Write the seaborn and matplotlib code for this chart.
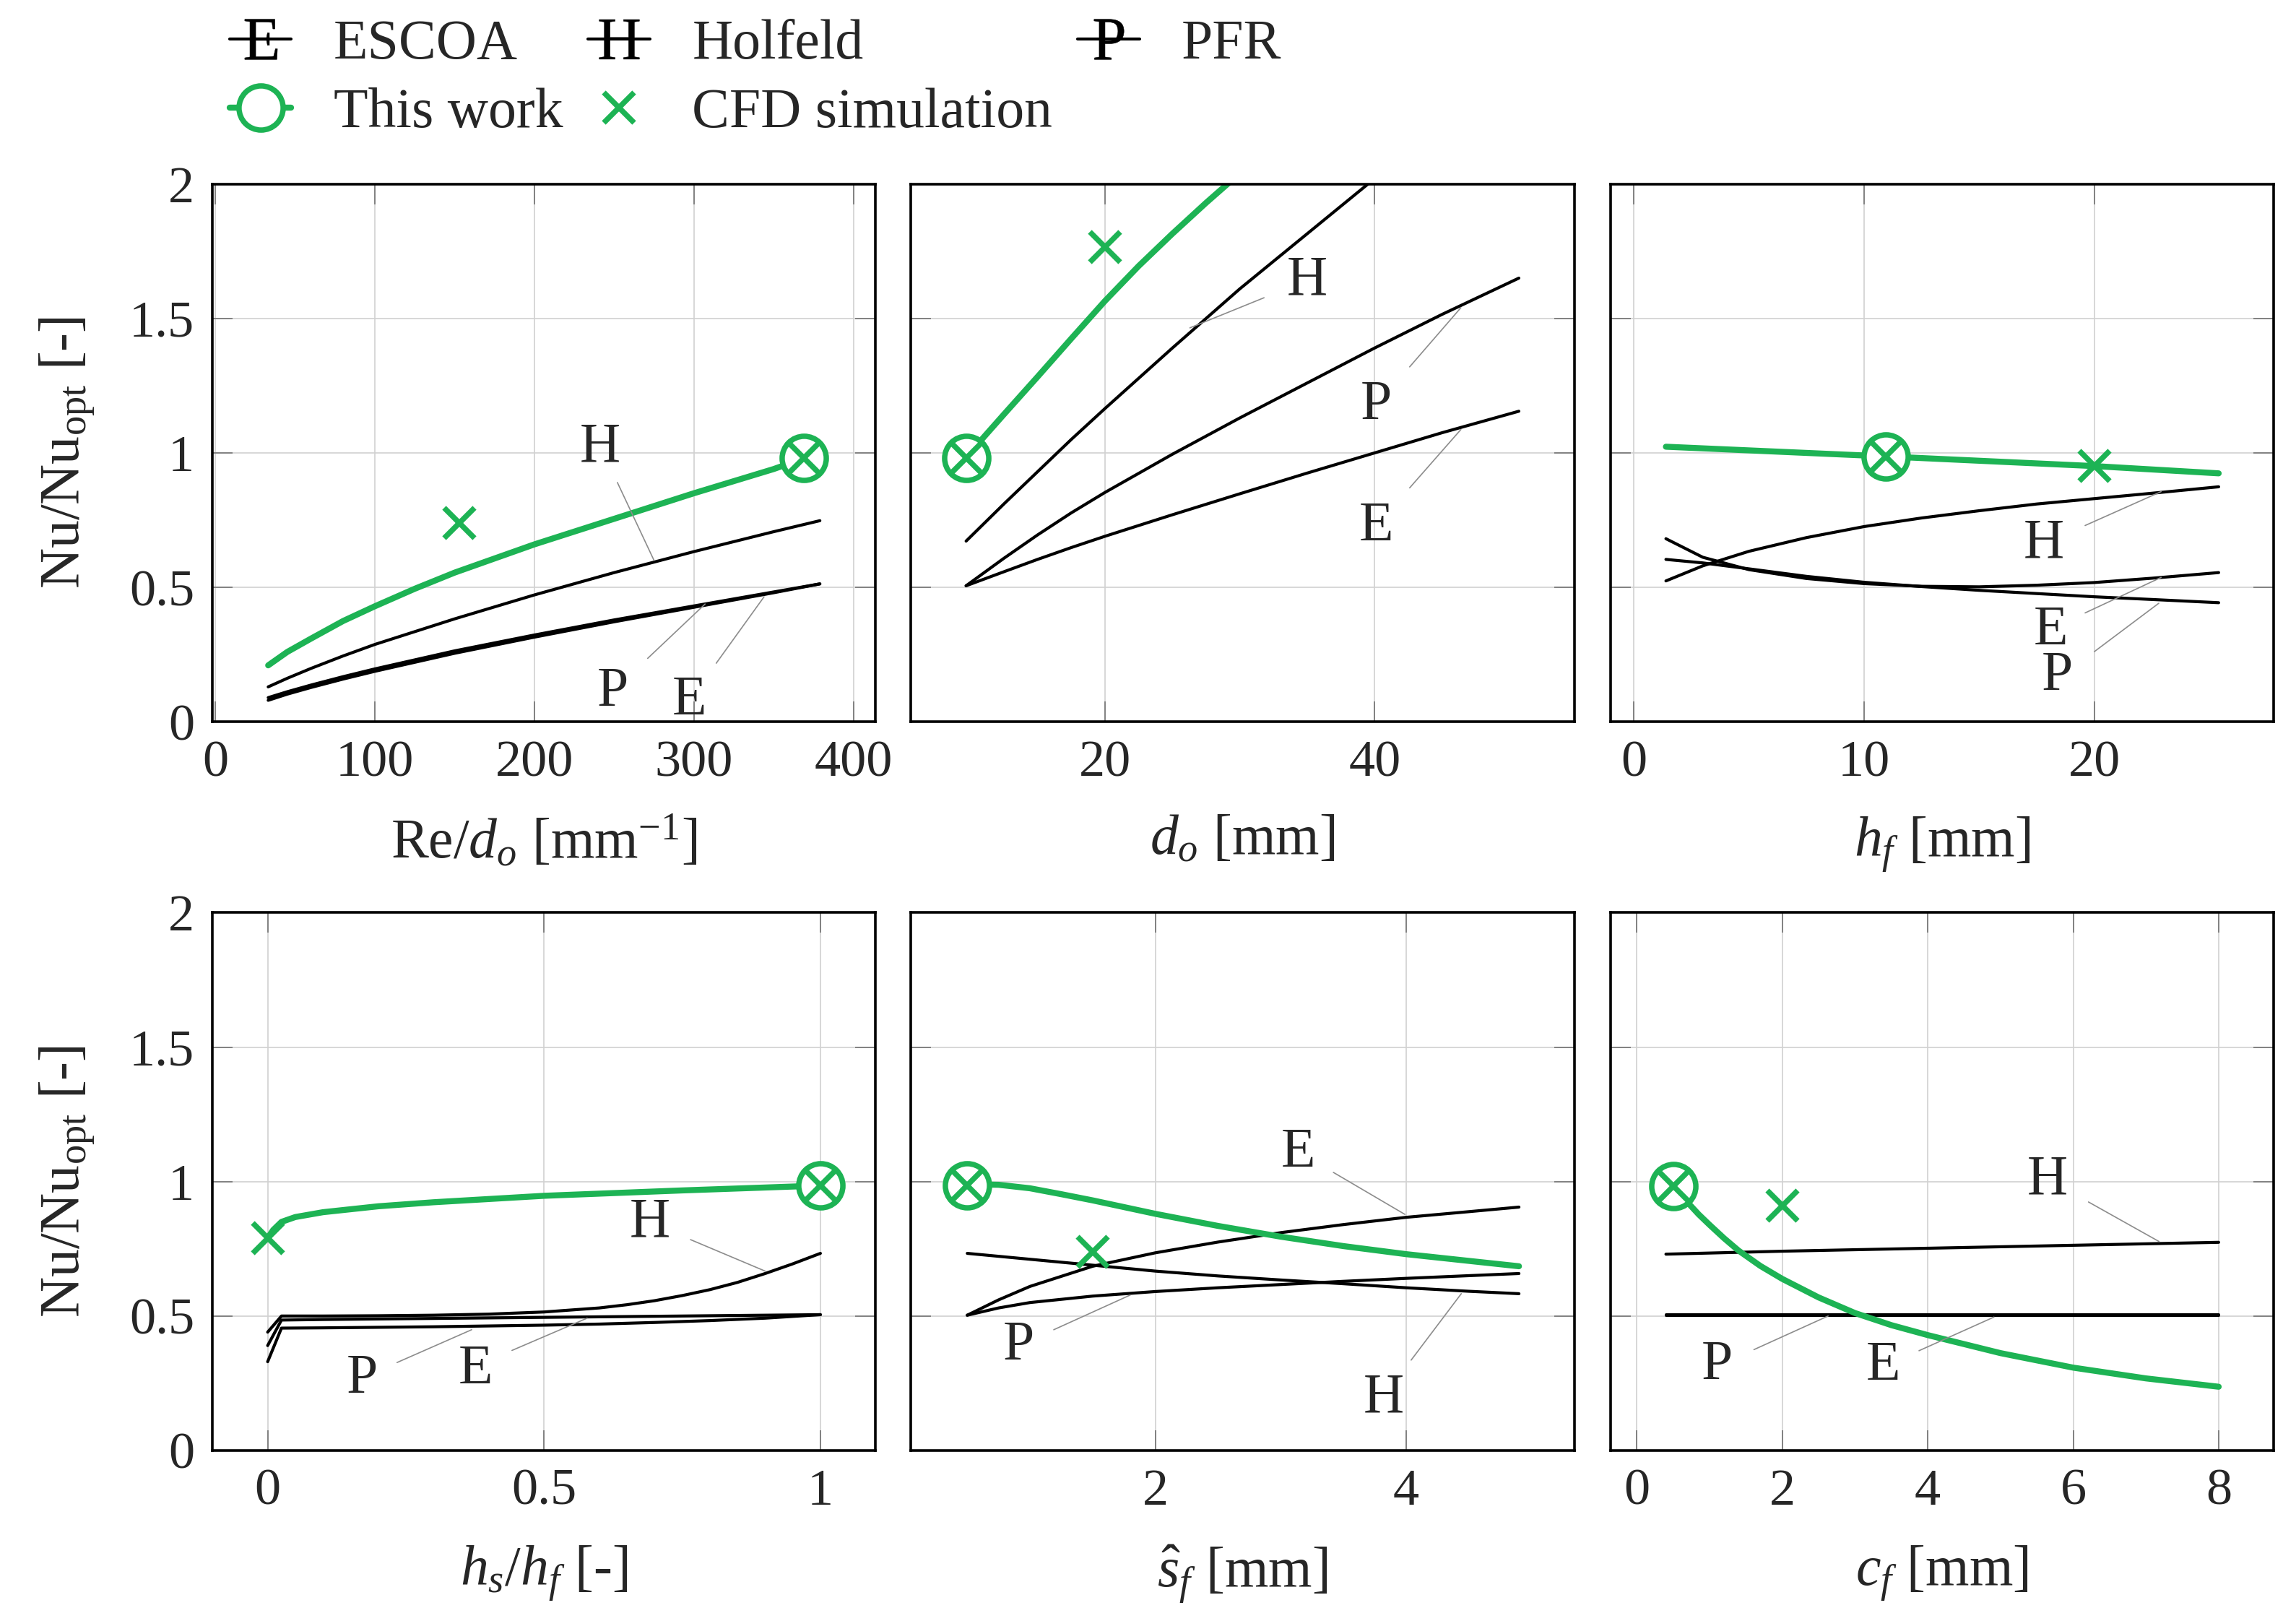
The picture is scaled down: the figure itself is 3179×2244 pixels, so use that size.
import numpy as np
import pandas as pd
import seaborn as sns
import matplotlib.pyplot as plt
from matplotlib.lines import Line2D
from matplotlib.ticker import FuncFormatter

# ---- panel 1: Re/d_o
re_x = [33, 45, 60, 80, 100, 150, 200, 250, 300, 350, 379]
re_E = [0.08, 0.103, 0.128, 0.159, 0.188, 0.255, 0.315, 0.372, 0.426, 0.48, 0.513]
re_H = [0.13, 0.162, 0.199, 0.245, 0.288, 0.383, 0.472, 0.555, 0.633, 0.707, 0.748]
re_P = [0.09, 0.112, 0.137, 0.168, 0.197, 0.264, 0.323, 0.379, 0.431, 0.483, 0.513]
re_tw_x = [33, 45, 60, 80, 100, 125, 150, 200, 250, 300, 350, 369]
re_tw = [0.21, 0.26, 0.31, 0.375, 0.43, 0.495, 0.555, 0.66, 0.755, 0.85, 0.94, 0.98]
re_cfd_x = [153, 369]
re_cfd = [0.74, 0.98]
re_opt = (369, 0.98)

# ---- panel 2: d_o
do_x = [9.7, 12.5, 15, 17.5, 20, 25, 30, 35, 40, 45, 50.7]
do_E = [0.506, 0.558, 0.604, 0.648, 0.69, 0.77, 0.848, 0.925, 1.0, 1.075, 1.155]
do_P = [0.506, 0.608, 0.695, 0.777, 0.853, 0.995, 1.13, 1.26, 1.39, 1.515, 1.65]
do_H_x = [9.7, 12.5, 15, 17.5, 20, 25, 30, 35, 40]
do_H = [0.672, 0.81, 0.93, 1.05, 1.165, 1.39, 1.61, 1.815, 2.02]
do_tw_x = [9.7, 11, 12.5, 15, 17.5, 20, 22.5, 25, 27.5, 30]
do_tw = [0.982, 1.058, 1.143, 1.283, 1.425, 1.565, 1.695, 1.815, 1.93, 2.04]
do_cfd_x = [9.7, 20]
do_cfd = [0.982, 1.766]
do_opt = (9.7, 0.982)

# ---- panel 3: h_f
hf_x = [1.4, 3, 5, 7.5, 10, 12.5, 15, 17.5, 20, 22.5, 25.4]
hf_H = [0.524, 0.58, 0.634, 0.685, 0.726, 0.758, 0.785, 0.81, 0.83, 0.85, 0.874]
hf_E = [0.681, 0.612, 0.566, 0.533, 0.514, 0.504, 0.502, 0.508, 0.518, 0.534, 0.555]
hf_P = [0.604, 0.591, 0.569, 0.541, 0.519, 0.503, 0.489, 0.477, 0.465, 0.455, 0.443]
hf_tw_x = [1.4, 10.94, 20, 25.4]
hf_tw = [1.023, 0.987, 0.951, 0.924]
hf_cfd_x = [10.94, 20]
hf_cfd = [0.987, 0.951]
hf_opt = (10.94, 0.987)

# ---- panel 4: h_s/h_f
hs_x = [0, 0.025, 0.1, 0.2, 0.3, 0.4, 0.5, 0.6, 0.7, 0.8, 0.9, 1.0]
hs_E = [0.39, 0.485, 0.487, 0.489, 0.491, 0.493, 0.495, 0.497, 0.499, 0.501, 0.503, 0.505]
hs_P = [0.33, 0.455, 0.456, 0.458, 0.46, 0.463, 0.466, 0.47, 0.476, 0.483, 0.492, 0.505]
hs_H_x = [0, 0.025, 0.1, 0.2, 0.3, 0.4, 0.5, 0.6, 0.65, 0.7, 0.75, 0.8, 0.85, 0.9, 0.95, 1.0]
hs_H = [0.44, 0.50, 0.50, 0.501, 0.503, 0.507, 0.515, 0.53, 0.542, 0.557, 0.576,
        0.598, 0.625, 0.658, 0.694, 0.733]
hs_tw_x = [0, 0.01, 0.025, 0.05, 0.1, 0.2, 0.3, 0.5, 0.75, 1.0]
hs_tw = [0.79, 0.82, 0.85, 0.868, 0.886, 0.908, 0.923, 0.947, 0.967, 0.985]
hs_cfd_x = [0, 1.0]
hs_cfd = [0.79, 0.985]
hs_opt = (1.0, 0.985)

# ---- panel 5: s_f
sf_x = [0.5, 0.75, 1.0, 1.5, 2.0, 2.5, 3.0, 3.5, 4.0, 4.5, 4.9]
sf_E = [0.503, 0.56, 0.61, 0.685, 0.735, 0.775, 0.81, 0.84, 0.867, 0.888, 0.905]
sf_H = [0.733, 0.722, 0.711, 0.689, 0.667, 0.649, 0.634, 0.62, 0.605, 0.592, 0.583]
sf_P = [0.503, 0.53, 0.55, 0.574, 0.591, 0.605, 0.617, 0.629, 0.64, 0.65, 0.658]
sf_tw_x = [0.5, 0.75, 1.0, 1.25, 1.5, 2.0, 2.5, 3.0, 3.5, 4.0, 4.5, 4.9]
sf_tw = [0.99, 0.988, 0.975, 0.953, 0.93, 0.88, 0.835, 0.795, 0.76, 0.73, 0.705, 0.685]
sf_cfd_x = [0.5, 1.5]
sf_cfd = [0.986, 0.739]
sf_opt = (0.5, 0.986)

# ---- panel 6: c_f
cf_x = [0.4, 2, 4, 6, 8]
cf_H = [0.730, 0.741, 0.752, 0.763, 0.774]
cf_E = [0.504, 0.504, 0.504, 0.504, 0.504]
cf_P = [0.503, 0.503, 0.503, 0.503, 0.503]
cf_tw_x = [0.5, 0.6, 0.72, 0.85, 1.0, 1.2, 1.4, 1.7, 2.0, 2.5, 3.0, 3.5, 4.0, 5.0,
           6.0, 7.0, 8.0]
cf_tw = [0.982, 0.952, 0.916, 0.878, 0.839, 0.789, 0.743, 0.686, 0.638, 0.569,
         0.511, 0.466, 0.429, 0.362, 0.308, 0.268, 0.237]
cf_cfd_x = [0.5, 2.0]
cf_cfd = [0.982, 0.911]
cf_opt = (0.5, 0.982)

GREEN = "#1db354"
FS_TICK = 26
FS = 28

sns.set_theme(style="whitegrid")
plt.rcParams["font.family"] = ["Liberation Serif", "DejaVu Serif"]
plt.rcParams["mathtext.fontset"] = "custom"
plt.rcParams["mathtext.rm"] = "Liberation Serif"
plt.rcParams["mathtext.it"] = "Liberation Serif:italic"
plt.rcParams["mathtext.bf"] = "Liberation Serif:bold"

fig = plt.figure(figsize=(15.895, 11.22), dpi=200)
fig.patch.set_facecolor("white")

lefts = [0.0925, 0.3967, 0.7015]
bottoms = [0.5547, 0.1052]
W, H = 0.2889, 0.3318
axes = [[fig.add_axes([l, b, W, H]) for l in lefts] for b in bottoms]


def panel(ax, black, tw_x, tw_y, cfd_x, cfd_y, opt, notes, xlim, xticks, xlabel):
    for bx, by in black:
        sns.lineplot(x=bx, y=by, ax=ax, color="black", lw=1.5,
                     estimator=None, sort=False)
    sns.lineplot(x=tw_x, y=tw_y, ax=ax, color=GREEN, lw=3.0,
                 estimator=None, sort=False)
    # optimum of this work, CFD points on top
    ax.plot([opt[0]], [opt[1]], ls="none", marker="o", ms=22, mfc="white",
            mec=GREEN, mew=2.7, zorder=5, clip_on=False)
    ax.plot(cfd_x, cfd_y, ls="none", marker="x", ms=15, mec=GREEN, mew=2.7,
            zorder=6, clip_on=False)
    for txt, tx, ty, x0, y0, x1, y1 in notes:
        ax.plot([x0, x1], [y0, y1], color="0.55", lw=0.6)
        ax.text(tx, ty, txt, ha="center", va="center", fontsize=FS)
    ax.set_xlim(*xlim)
    ax.set_ylim(0, 2)
    ax.set_xticks(xticks)
    ax.set_yticks([0, 0.5, 1, 1.5, 2])
    ax.xaxis.set_major_formatter(FuncFormatter(lambda v, p: f"{v:g}"))
    ax.yaxis.set_major_formatter(FuncFormatter(lambda v, p: f"{v:g}"))
    ax.set_xlabel(xlabel, fontsize=FS, labelpad=14)
    ax.grid(True, color="0.82", lw=0.6)
    ax.set_facecolor("white")
    for s in ax.spines.values():
        s.set_color("black")
        s.set_linewidth(1.3)
    ax.tick_params(direction="in", length=10, width=0.6, color="0.45",
                   labelsize=FS_TICK, pad=9, top=True, right=True,
                   bottom=True, left=True)


panel(axes[0][0], [(re_x, re_E), (re_x, re_H), (re_x, re_P)],
      re_tw_x, re_tw, re_cfd_x, re_cfd, re_opt,
      [("H", 241, 1.02, 252, 0.89, 275, 0.60),
       ("P", 249, 0.11, 271, 0.236, 307, 0.438),
       ("E", 297, 0.077, 314, 0.218, 344, 0.465)],
      (-2, 414), [0, 100, 200, 300, 400], r"Re$/d_o$ [mm$^{-1}$]")

panel(axes[0][1], [(do_x, do_E), (do_H_x, do_H), (do_x, do_P)],
      do_tw_x, do_tw, do_cfd_x, do_cfd, do_opt,
      [("H", 35.0, 1.64, 31.8, 1.577, 26.3, 1.465),
       ("P", 40.1, 1.177, 42.6, 1.32, 46.4, 1.54),
       ("E", 40.1, 0.726, 42.6, 0.87, 46.4, 1.087)],
      (5.6, 54.8), [20, 40], r"$d_o$ [mm]")

panel(axes[0][2], [(hf_x, hf_E), (hf_x, hf_H), (hf_x, hf_P)],
      hf_tw_x, hf_tw, hf_cfd_x, hf_cfd, hf_opt,
      [("H", 17.8, 0.663, 19.6, 0.73, 22.9, 0.856),
       ("E", 18.1, 0.339, 19.6, 0.405, 22.9, 0.537),
       ("P", 18.4, 0.168, 20.0, 0.261, 22.8, 0.441)],
      (-1.0, 27.8), [0, 10, 20], r"$h_f$ [mm]")

panel(axes[1][0], [(hs_x, hs_E), (hs_H_x, hs_H), (hs_x, hs_P)],
      hs_tw_x, hs_tw, hs_cfd_x, hs_cfd, hs_opt,
      [("H", 0.692, 0.846, 0.765, 0.784, 0.90, 0.667),
       ("P", 0.171, 0.265, 0.234, 0.327, 0.369, 0.449),
       ("E", 0.376, 0.30, 0.442, 0.372, 0.578, 0.492)],
      (-0.1, 1.1), [0, 0.5, 1], r"$h_s/h_f$ [-]")

panel(axes[1][1], [(sf_x, sf_E), (sf_x, sf_H), (sf_x, sf_P)],
      sf_tw_x, sf_tw, sf_cfd_x, sf_cfd, sf_opt,
      [("E", 3.14, 1.105, 3.42, 1.034, 3.99, 0.878),
       ("P", 0.91, 0.39, 1.19, 0.449, 1.80, 0.578),
       ("H", 3.82, 0.193, 4.04, 0.336, 4.44, 0.583)],
      (0.05, 5.34), [2, 4], r"$\hat{s}_f$ [mm]")

panel(axes[1][2], [(cf_x, cf_E), (cf_x, cf_H), (cf_x, cf_P)],
      cf_tw_x, cf_tw, cf_cfd_x, cf_cfd, cf_opt,
      [("H", 5.65, 1.004, 6.21, 0.924, 7.18, 0.777),
       ("P", 1.10, 0.317, 1.61, 0.375, 2.63, 0.50),
       ("E", 3.39, 0.3125, 3.88, 0.371, 4.91, 0.496)],
      (-0.36, 8.76), [0, 2, 4, 6, 8], r"$c_f$ [mm]")

for row in axes:
    row[0].set_ylabel(r"Nu/Nu$_{\mathrm{opt}}$ [-]", fontsize=FS, labelpad=16)
    for ax in row[1:]:
        ax.set_ylabel("")
        ax.tick_params(labelleft=False)

handles = [
    Line2D([], [], color="black", lw=1.5, marker=r"$\mathrm{E}$", ms=20, mew=0.2),
    Line2D([], [], color=GREEN, lw=3.0, marker="o", ms=22, mfc="white",
           mec=GREEN, mew=2.7),
    Line2D([], [], color="black", lw=1.5, marker=r"$\mathrm{H}$", ms=20, mew=0.2),
    Line2D([], [], ls="none", marker="x", ms=15, color=GREEN, mew=2.7),
    Line2D([], [], color="black", lw=1.5, marker=r"$\mathrm{P}$", ms=20, mew=0.2),
]
labels = ["ESCOA", "This work", "Holfeld", "CFD simulation", "PFR"]
fig.legend(handles, labels, ncol=3, loc="upper left",
           bbox_to_anchor=(0.1, 0.988), frameon=False, fontsize=FS,
           handlelength=1.1, handletextpad=0.75, columnspacing=0.45,
           labelspacing=0.3, borderpad=0, borderaxespad=0)

fig.savefig("out.png", dpi=200, facecolor="white")
